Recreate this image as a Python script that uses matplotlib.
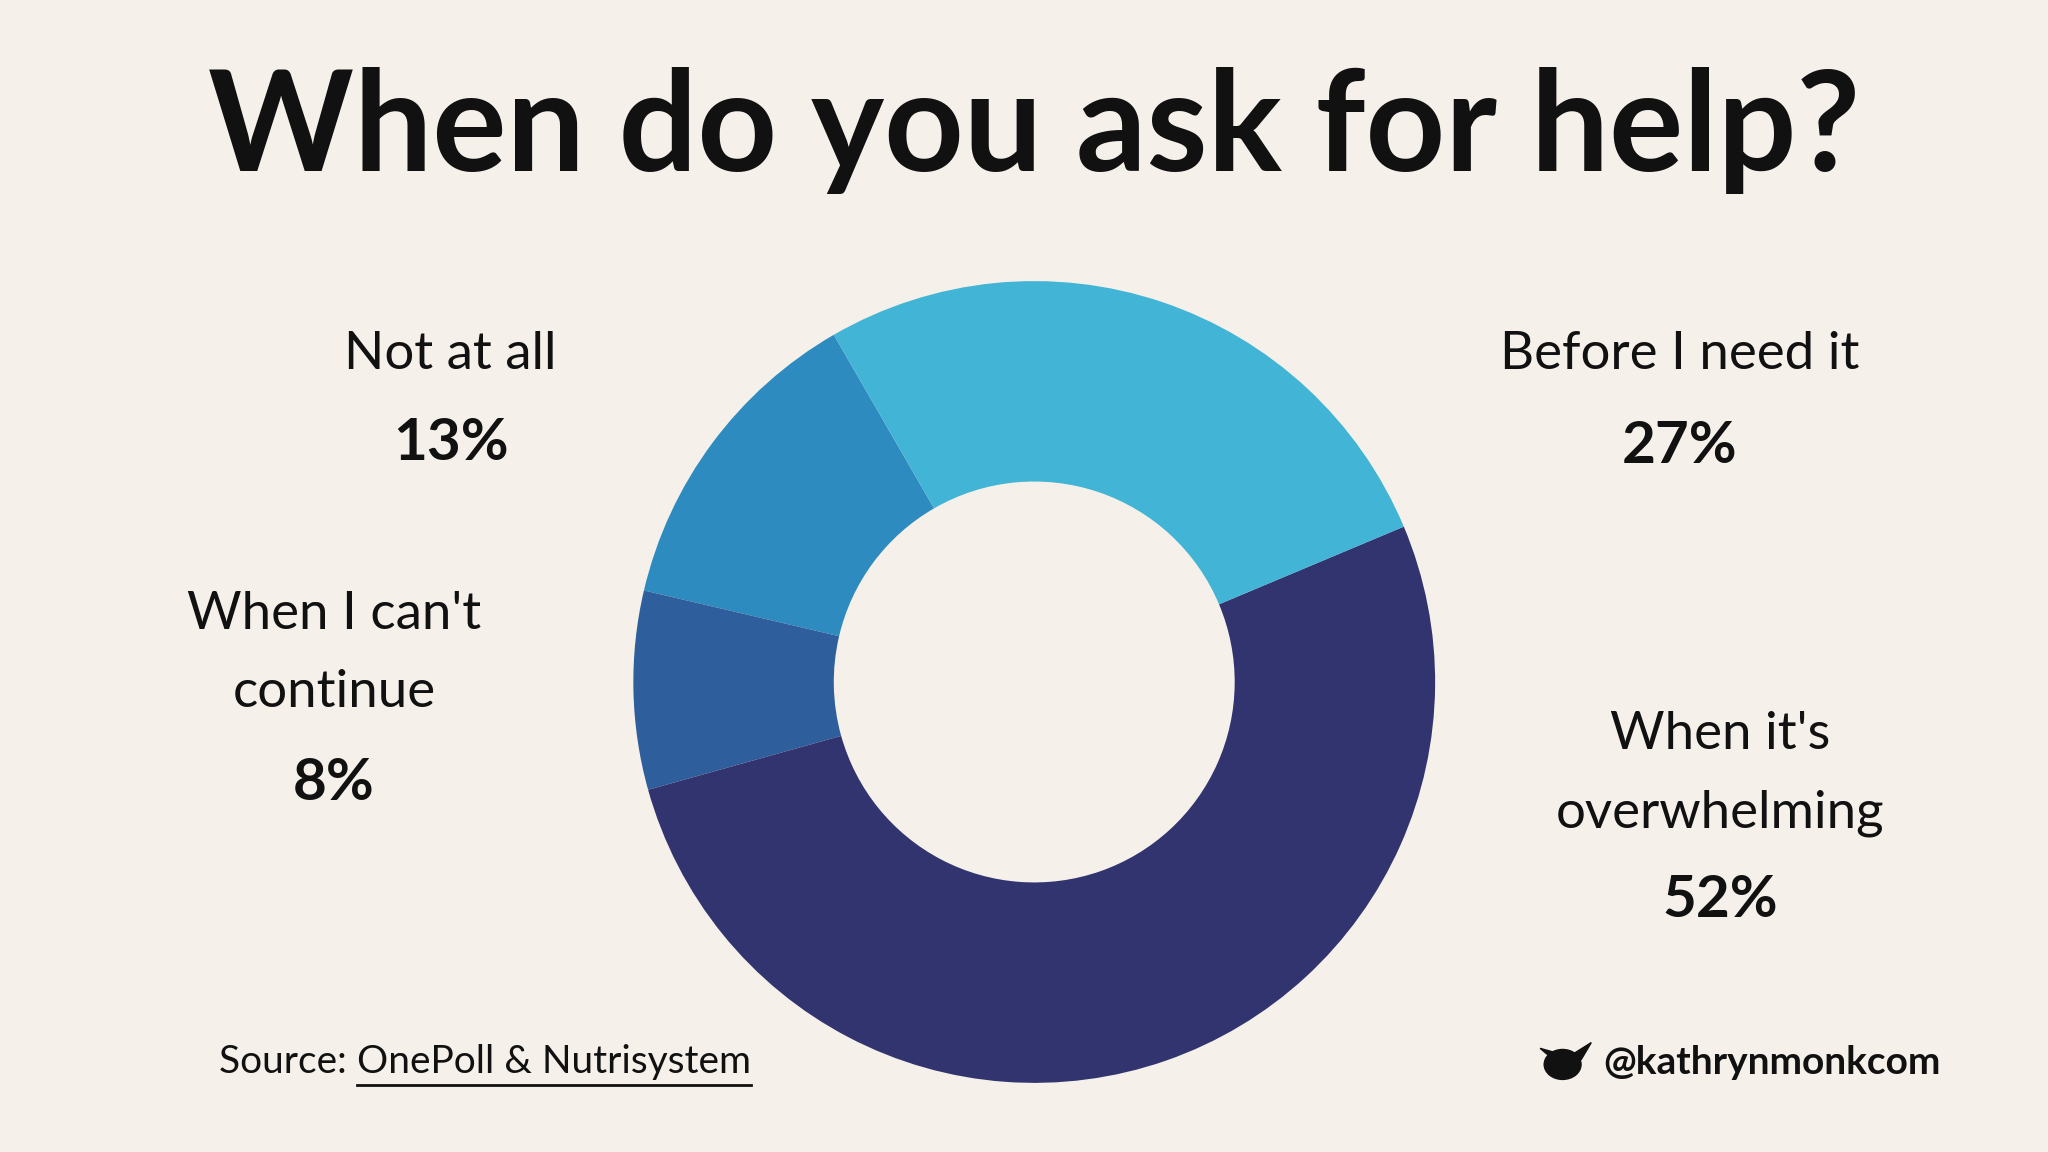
import matplotlib
matplotlib.use("Agg")
import matplotlib.pyplot as plt
from matplotlib.patches import Ellipse, Polygon

labels = ["Not at all", "When I can't\ncontinue", "When it's\noverwhelming", "Before I need it"]
values = [13, 8, 52, 27]
colors = ["#2E8BBF", "#2E5F9C", "#31346E", "#42B4D6"]
bg = "#F5F1EA"
plt.rcParams['font.family'] = ['Lato', 'DejaVu Sans']

fig = plt.figure(figsize=(20.48, 11.52), dpi=100, facecolor=bg)
cx, cy, h = 0.505, 0.408, 0.696
w = h * 1152 / 2048
ax = fig.add_axes([cx - w/2, cy - h/2, w, h])
ax.set_facecolor(bg)
ax.pie(values, colors=colors, startangle=120, counterclock=True,
       wedgeprops=dict(width=0.5, linewidth=0))
ax.set_xlim(-1, 1); ax.set_ylim(-1, 1); ax.set_aspect('equal'); ax.axis('off')

fig.text(0.505, 0.887, "When do you ask for help?", ha='center', va='center',
         fontsize=100, fontweight='bold', color='#111111')

lab_fs, pct_fs = 38, 42
def block(x, ys, lines, pct):
    for y, t in zip(ys[:-1], lines):
        fig.text(x, y, t, ha='center', va='center', fontsize=lab_fs, color='#111111')
    fig.text(x, ys[-1], pct, ha='center', va='center', fontsize=pct_fs, fontweight='bold', color='#111111')

block(0.22, [0.692, 0.615], labels[0].split("\n"), f"{values[0]}%")
block(0.163, [0.467, 0.399, 0.32], labels[1].split("\n"), f"{values[1]}%")
block(0.84, [0.362, 0.294, 0.218], labels[2].split("\n"), f"{values[2]}%")
block(0.82, [0.692, 0.612], labels[3].split("\n"), f"{values[3]}%")

t1 = fig.text(0.107, 0.078, "Source: ", ha='left', va='center', fontsize=28, color='#111111')
fig.canvas.draw()
r = fig.canvas.get_renderer()
bb = t1.get_window_extent(r)
x2 = bb.x1 / fig.bbox.width
t2 = fig.text(x2, 0.078, "OnePoll & Nutrisystem", ha='left', va='center', fontsize=28, color='#111111')
bb2 = t2.get_window_extent(r)
fig.add_artist(plt.Line2D([bb2.x0 / fig.bbox.width, bb2.x1 / fig.bbox.width], [0.058, 0.058],
                          transform=fig.transFigure, color='#111111', lw=2))

fig.text(0.783, 0.078, "@kathrynmonkcom", ha='left', va='center', fontsize=28,
         fontweight='bold', color='#111111')
# simple bird icon
fig.add_artist(Ellipse((0.763, 0.076), 0.018, 0.026, transform=fig.transFigure, color='#111111'))
fig.add_artist(Polygon([(0.752, 0.090), (0.760, 0.078), (0.768, 0.082)], closed=True,
                       transform=fig.transFigure, color='#111111'))
fig.add_artist(Polygon([(0.768, 0.085), (0.777, 0.095), (0.772, 0.080)], closed=True,
                       transform=fig.transFigure, color='#111111'))

fig.savefig("out.png", facecolor=bg)
